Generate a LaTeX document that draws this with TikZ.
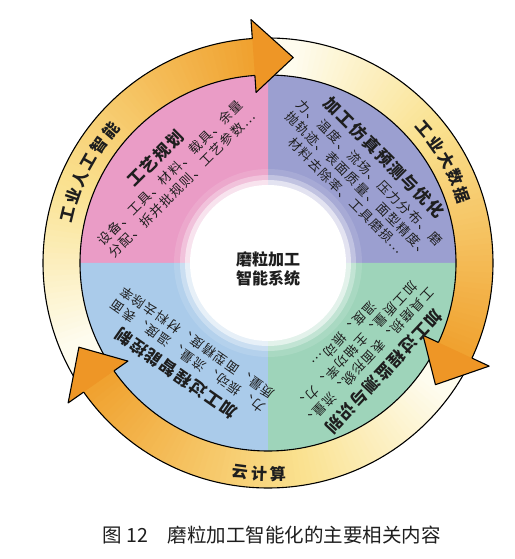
\documentclass[tikz,border=0pt]{standalone}
\usepackage{fontspec}
\setmainfont{Noto Sans CJK SC}
\newfontfamily\qfont[LetterSpace=10]{Noto Sans CJK SC}
\newfontfamily\tfont[LetterSpace=10]{Noto Sans CJK SC}
\usepackage{tikz}
\usetikzlibrary{positioning}

\definecolor{ringW}{RGB}{254,252,238}
\definecolor{ringY}{RGB}{250,226,145}
\definecolor{ringO}{RGB}{240,162,48}
\definecolor{headO}{RGB}{238,150,38}
\definecolor{qPink}{RGB}{234,156,198}
\definecolor{qPurple}{RGB}{155,159,208}
\definecolor{qBlue}{RGB}{170,203,234}
\definecolor{qGreen}{RGB}{158,212,186}
\definecolor{ink}{RGB}{30,30,30}

\begin{document}
\begin{tikzpicture}[
    x=1pt, y=1pt,
    every node/.style={text=ink, inner sep=0pt},
    qtext/.style={align=center, font=\qfont\fontsize{13}{16.5}\selectfont},
    ringlabel/.style={font=\bfseries\fontsize{16}{16}\selectfont},
    edge/.style={draw=black, line width=1.1pt},
    head/.style={fill=headO, draw=black, line width=1.1pt, line join=round}
]
\useasboundingbox (-268,-296) rectangle (246,263);
\fill[white] (-268,-296) rectangle (246,263);

% ring with the three arrows
\fill[ringW, even odd rule] (0,0) circle[radius=225pt] circle[radius=188pt];
\foreach \tip/\beg in {83/203, -36/83, 204/324}{
  \pgfmathsetmacro\back{\tip+11}
  \pgfmathsetmacro\arcl{(\beg-\back)/72}
  \foreach \k in {0,...,71}{
    \pgfmathsetmacro\ang{\beg-\k*\arcl}
    \pgfmathsetmacro\angb{\ang-\arcl-0.5}
    \pgfmathsetmacro\pw{min(100,\k/71/0.4*100)}
    \pgfmathsetmacro\po{max(0,(\k/71-0.4)/0.6*100)}
    \colorlet{mixc}{ringY!\pw!ringW}
    \fill[ringO!\po!mixc] (\ang:188pt) arc[start angle=\ang, end angle=\angb, radius=188pt]
      -- (\angb:225pt) arc[start angle=\angb, end angle=\ang, radius=225pt] -- cycle;
  }
}

% four parts of the disc
\fill[qPurple] (0,0) -- (0:188pt) arc[start angle=0, end angle=90, radius=188pt] -- cycle;
\fill[qPink] (0,0) -- (90:188pt) arc[start angle=90, end angle=180, radius=188pt] -- cycle;
\fill[qBlue] (0,0) -- (180:188pt) arc[start angle=180, end angle=270, radius=188pt] -- cycle;
\fill[qGreen] (0,0) -- (270:188pt) arc[start angle=270, end angle=360, radius=188pt] -- cycle;
\foreach \rr/\op in {94/0.12, 88/0.3, 83/0.55}
  \fill[white, opacity=\op] (0,0) circle[radius=\rr pt];
\fill[white] (0,0) circle[radius=78pt];

\draw[edge] (0,0) circle[radius=225pt];
\draw[edge] (0,0) circle[radius=188pt];
\foreach \tip in {83,-36,204}
  \filldraw[head] ({\tip+11}:188pt) -- ({\tip+11}:171pt) -- (\tip:207pt)
    -- ({\tip+11}:244pt) -- ({\tip+11}:225pt);

% texts
\node[align=center, font=\bfseries\fontsize{16}{19}\selectfont] (ctr) at (0,-6) {磨粒加工\\智能系统};

\node[qtext, rotate=45] (plan) at (-100,92)
  {{\tfont\bfseries\fontsize{16.5}{20}\selectfont 工艺规划}\\[3pt]
   设备、工具、材料、载具、余量\\分配、拆并批规则、工艺参数…};
\node[qtext, rotate=-45] (simu) at (98,87)
  {{\tfont\bfseries\fontsize{16.5}{20}\selectfont 加工仿真预测与优化}\\[3pt]
   力、温度、流场、压力分布、磨\\抛轨迹、表面质量、面型精度、\\材料去除率、工具磨损…};
\node[qtext, rotate=145] (ctrl) at (-82,-96)
  {{\tfont\bfseries\fontsize{16.5}{20}\selectfont 加工过程智能控制}\\[3pt]
   力、振动、流量、温度、表面\\质量、面型精度、材料去除率};
\node[qtext, rotate=-133] (moni) at (97,-91)
  {{\tfont\bfseries\fontsize{16.5}{20}\selectfont 加工过程监测与识别}\\[3pt]
   工具磨损、表面形貌、流量、\\加工质量、主轴功率、力、\\温度、振动…};

\foreach \ch [count=\i] in {工,业,人,工,智,能}
  \node[ringlabel, rotate={166.3-(\i-1)*5.3-90}] (ai\i) at ({166.3-(\i-1)*5.3}:206pt) {\ch};
\foreach \ch [count=\i] in {工,业,大,数,据}
  \node[ringlabel, rotate={40.6-(\i-1)*5.3-90}] (bd\i) at ({40.6-(\i-1)*5.3}:206pt) {\ch};
\foreach \ch [count=\i] in {云,计,算}
  \node[ringlabel, rotate={262.5+(\i-1)*5.1+90}] (cc\i) at ({262.5+(\i-1)*5.1}:211pt) {\ch};

\node[font=\fontsize{19.5}{20}\selectfont] (cap) at (4,-272) {图 12\quad 磨粒加工智能化的主要相关内容};
\end{tikzpicture}
\end{document}
